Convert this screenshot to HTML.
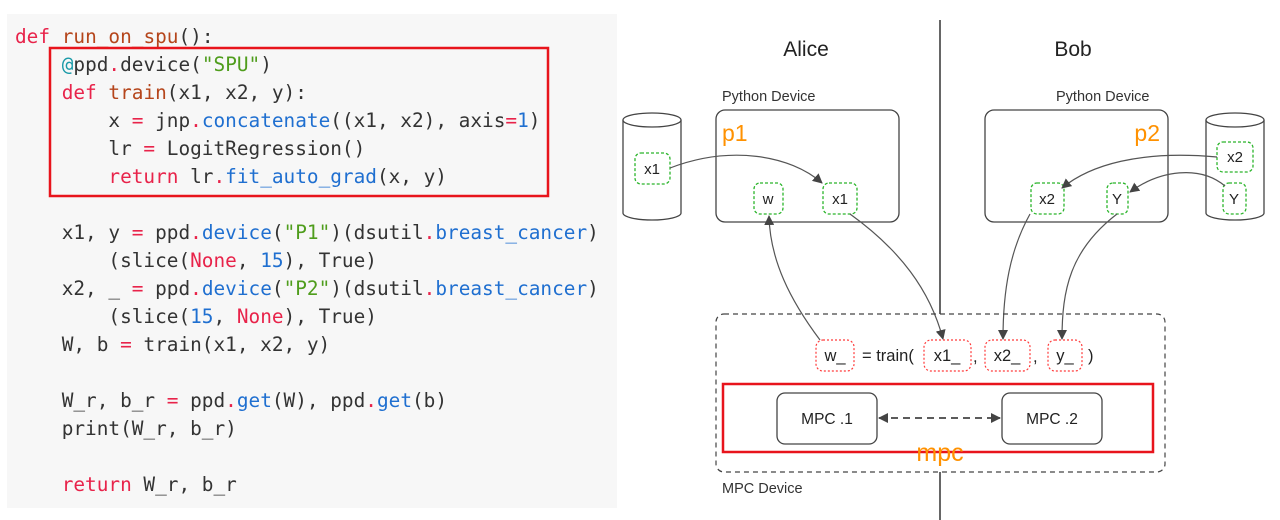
<!DOCTYPE html>
<html><head><meta charset="utf-8"><style>
body{margin:0;width:1280px;height:520px;background:#fff;position:relative;overflow:hidden}
.panel{position:absolute;left:7px;top:14px;width:610px;height:494px;background:#f7f7f7}
.l{position:absolute;left:15px;font-family:"DejaVu Sans Mono","Liberation Mono",monospace;font-size:19.4px;line-height:32px;height:32px;white-space:pre;color:#333}
.k{color:#e8234a}.f{color:#b5451b}.b{color:#1f6fd0}.g{color:#4f9d1c}.t{color:#1a9aa8}
svg{position:absolute;left:0;top:0}
</style></head><body>
<div class="panel"></div>
<div class="l" style="top:21px"><span class="k">def</span> <span class="f">run_on_spu</span>():</div>
<div class="l" style="top:49px">    <span class="t">@</span>ppd<span class="k">.</span>device(<span class="g">"SPU"</span>)</div>
<div class="l" style="top:77px">    <span class="k">def</span> <span class="f">train</span>(x1, x2, y):</div>
<div class="l" style="top:105px">        x <span class="k">=</span> jnp<span class="k">.</span><span class="b">concatenate</span>((x1, x2), axis<span class="k">=</span><span class="b">1</span>)</div>
<div class="l" style="top:133px">        lr <span class="k">=</span> LogitRegression()</div>
<div class="l" style="top:161px">        <span class="k">return</span> lr<span class="k">.</span><span class="b">fit_auto_grad</span>(x, y)</div>
<div class="l" style="top:217px">    x1, y <span class="k">=</span> ppd<span class="k">.</span><span class="b">device</span>(<span class="g">"P1"</span>)(dsutil<span class="k">.</span><span class="b">breast_cancer</span>)</div>
<div class="l" style="top:245px">        (slice(<span class="k">None</span>, <span class="b">15</span>), True)</div>
<div class="l" style="top:273px">    x2, _ <span class="k">=</span> ppd<span class="k">.</span><span class="b">device</span>(<span class="g">"P2"</span>)(dsutil<span class="k">.</span><span class="b">breast_cancer</span>)</div>
<div class="l" style="top:301px">        (slice(<span class="b">15</span>, <span class="k">None</span>), True)</div>
<div class="l" style="top:329px">    W, b <span class="k">=</span> train(x1, x2, y)</div>
<div class="l" style="top:385px">    W_r, b_r <span class="k">=</span> ppd<span class="k">.</span><span class="b">get</span>(W), ppd<span class="k">.</span><span class="b">get</span>(b)</div>
<div class="l" style="top:413px">    print(W_r, b_r)</div>
<div class="l" style="top:469px">    <span class="k">return</span> W_r, b_r</div>
<svg width="1280" height="520" viewBox="0 0 1280 520" font-family="Liberation Sans, sans-serif">
<defs><marker id="a" markerWidth="10" markerHeight="10" refX="9" refY="5" orient="auto" markerUnits="userSpaceOnUse"><path d="M0,0 L10,5 L0,10 z" fill="#444"/></marker>
<marker id="s" markerWidth="10" markerHeight="10" refX="1" refY="5" orient="auto" markerUnits="userSpaceOnUse"><path d="M10,0 L0,5 L10,10 z" fill="#444"/></marker></defs>
<rect x="50" y="48" width="498" height="148" fill="none" stroke="#e8141c" stroke-width="2.5"/>
<line x1="940" y1="20" x2="940" y2="314" stroke="#333" stroke-width="1.5"/>
<line x1="940" y1="472" x2="940" y2="520" stroke="#333" stroke-width="1.5"/>
<text x="806" y="56" font-size="21" text-anchor="middle" fill="#222">Alice</text>
<text x="1073" y="56" font-size="21" text-anchor="middle" fill="#222">Bob</text>
<text x="722" y="101" font-size="14.5" fill="#333">Python Device</text>
<text x="1056" y="101" font-size="14.5" fill="#333">Python Device</text>
<rect x="716" y="110" width="183" height="112" rx="9" fill="none" stroke="#444" stroke-width="1.3"/>
<rect x="985" y="110" width="183" height="112" rx="9" fill="none" stroke="#444" stroke-width="1.3"/>
<text x="722" y="141" font-size="23" fill="#ff9100">p1</text>
<text x="1160" y="141" font-size="23" fill="#ff9100" text-anchor="end">p2</text>
<g fill="#fff" stroke="#444" stroke-width="1.3">
<path d="M623,120 V213 A29,7 0 0 0 681,213 V120"/><ellipse cx="652" cy="120" rx="29" ry="7"/>
<path d="M1206,120 V213 A29,7 0 0 0 1264,213 V120"/><ellipse cx="1235" cy="120" rx="29" ry="7"/>
</g>
<g fill="#fff" stroke="#2bb52b" stroke-width="1.3" stroke-dasharray="3,2">
<rect x="635" y="153" width="35" height="31" rx="6"/>
<rect x="754" y="183" width="29" height="31" rx="6"/>
<rect x="823" y="183" width="34" height="31" rx="6"/>
<rect x="1031" y="183" width="33" height="31" rx="6"/>
<rect x="1107" y="183" width="21" height="31" rx="6"/>
<rect x="1217" y="142" width="36" height="30" rx="6"/>
<rect x="1223" y="183" width="23" height="31" rx="6"/>
</g>
<g font-size="15" fill="#222" text-anchor="middle">
<text x="652" y="174">x1</text><text x="768" y="204">w</text><text x="840" y="204">x1</text>
<text x="1047" y="204">x2</text><text x="1117" y="204">Y</text><text x="1235" y="162">x2</text><text x="1234" y="204">Y</text>
</g>
<g fill="none" stroke="#555" stroke-width="1.2" marker-end="url(#a)">
<path d="M670,168 C730,145 790,155 822,183"/>
<path d="M820,340 C790,300 770,260 769,216"/>
<path d="M850,214 C900,250 930,290 943,339"/>
<path d="M1030,214 C1010,250 1003,290 1003,339"/>
<path d="M1117,214 C1070,250 1062,290 1062,339"/>
<path d="M1217,157 C1140,150 1090,165 1062,188"/>
<path d="M1225,186 C1200,165 1160,170 1130,192"/>
</g>
<rect x="716" y="314" width="449" height="158" rx="8" fill="none" stroke="#444" stroke-width="1.2" stroke-dasharray="5,4"/>
<g fill="#fff" stroke="#ff3b3b" stroke-width="1.2" stroke-dasharray="2,2">
<rect x="816" y="340" width="38" height="31" rx="7"/>
<rect x="924" y="340" width="47" height="31" rx="7"/>
<rect x="985" y="340" width="45" height="31" rx="7"/>
<rect x="1048" y="340" width="34" height="31" rx="7"/>
</g>
<g font-size="16.5" fill="#222">
<text x="835" y="361" text-anchor="middle">w_</text>
<text x="862" y="361">= train(</text>
<text x="947" y="361" text-anchor="middle">x1_</text>
<text x="973" y="362">,</text>
<text x="1007" y="361" text-anchor="middle">x2_</text>
<text x="1033" y="362">,</text>
<text x="1065" y="361" text-anchor="middle">y_</text>
<text x="1088" y="361">)</text>
</g>
<rect x="723" y="384" width="430" height="68" fill="none" stroke="#e8141c" stroke-width="2.5"/>
<rect x="777" y="393" width="100" height="51" rx="8" fill="#fff" stroke="#444" stroke-width="1.3"/>
<rect x="1002" y="393" width="100" height="51" rx="8" fill="#fff" stroke="#444" stroke-width="1.3"/>
<text x="827" y="424" font-size="15.5" fill="#222" text-anchor="middle">MPC .1</text>
<text x="1052" y="424" font-size="15.5" fill="#222" text-anchor="middle">MPC .2</text>
<line x1="879" y1="418" x2="1000" y2="418" stroke="#444" stroke-width="1.8" stroke-dasharray="7,5" marker-start="url(#s)" marker-end="url(#a)"/>
<text x="940" y="461" font-size="25" fill="#ff9100" text-anchor="middle">mpc</text>
<text x="722" y="493" font-size="14.5" fill="#333">MPC Device</text>
</svg>
</body></html>
